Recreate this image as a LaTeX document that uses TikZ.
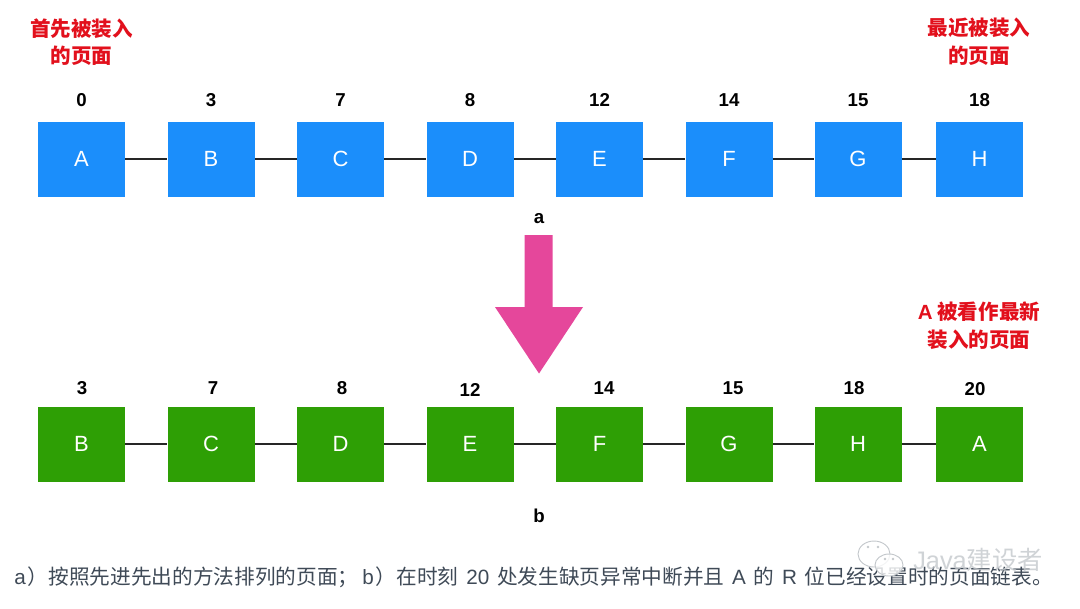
\documentclass[tikz,border=0pt]{standalone}
\usepackage{fontspec}
\setmainfont{Liberation Sans}
\newfontfamily\cjk{Noto Sans CJK SC}
\definecolor{bluebox}{HTML}{1B8EFB}
\definecolor{greenbox}{HTML}{2E9F05}
\definecolor{redtxt}{HTML}{E2101C}
\definecolor{pinkarrow}{HTML}{E5479B}
\definecolor{captxt}{HTML}{3F4A57}
\definecolor{wm}{HTML}{C4C8CC}
\tikzset{
  x=0.75pt,y=-0.75pt,
  pagebox/.style={minimum width=65.25pt,minimum height=56.25pt,inner sep=0pt,text=white,font=\fontsize{16.5}{18}\selectfont},
  bluepage/.style={pagebox,fill=bluebox},
  greenpage/.style={pagebox,fill=greenbox},
  link/.style={line width=1.5pt,draw=black!85},
  stamp/.style={font=\bfseries\fontsize{14}{16}\selectfont,inner sep=0pt},
  note/.style={font=\cjk\bfseries\fontsize{15.4}{20.8}\selectfont,text=redtxt,align=center,inner sep=0pt},
  caption/.style={font=\fontsize{15.5}{18}\selectfont,text=captxt,inner sep=0pt,anchor=west},
  bubble/.style={fill=white,fill opacity=0.8,draw=wm,line width=0.7pt},
}
\begin{document}
\begin{tikzpicture}
\useasboundingbox (0,0) rectangle (1080,608);
\fill[white] (0,0) rectangle (1080,608);
% notes
\node[note] (n1) at (81.5,42) {首先被装入\\的页面};
\node[note] (n2) at (979,42) {最近被装入\\的页面};
\node[note] (n3) at (979,325.5) {{\fontspec{Liberation Sans}\bfseries A} 被看作最新\\装入的页面};
% row a
\foreach \nm/\x/\t/\n in {a1/81.5/A/0,a2/211/B/3,a3/340.5/C/7,a4/470/D/8,a5/599.5/E/12,a6/729/F/14,a7/858/G/15,a8/979.5/H/18}{
  \node[bluepage] (\nm) at (\x,159.2) {\t};
  \node[stamp] (t\nm) at (\x,100) {\n};
}
\foreach \p/\q in {a1/a2,a2/a3,a3/a4,a4/a5,a5/a6,a6/a7,a7/a8} \draw[link] (\p) -- (\q);
% row b
\foreach \nm/\x/\t/\lx/\n/\y in {b1/81.5/B/82/3/388,b2/211/C/213/7/388,b3/340.5/D/342/8/388,b4/470/E/470/12/390,b5/599.5/F/604/14/388,b6/729/G/733/15/388,b7/858/H/854/18/388,b8/979.5/A/975/20/389}{
  \node[greenpage] (\nm) at (\x,444) {\t};
  \node[stamp] (t\nm) at (\lx,\y) {\n};
}
\foreach \p/\q in {b1/b2,b2/b3,b3/b4,b4/b5,b5/b6,b6/b7,b7/b8} \draw[link] (\p) -- (\q);
\node[stamp] (la) at (539,219) {a};
\node[stamp] (lb) at (539,516) {b};
% big arrow
\fill[pinkarrow] (524.5,235) -- (552.5,235) -- (552.5,307) -- (583,307) -- (539,373.5) -- (495,307) -- (524.5,307) -- cycle;
% caption
\node[caption] (cap) at (14,577) {\spaceskip=5.8pt a\kern1.5pt{\cjk ）按照先进先出的方法排列的页面；}\kern3pt b\kern1.5pt{\cjk ）在时刻} 20 {\cjk 处发生缺页异常中断并且} A {\cjk 的} R {\cjk 位已经设置时的页面链表。}};
% watermark
\draw[bubble] (874,554) ellipse (16 and 13);
\fill[wm] (868,547) circle (1.3) (878,547) circle (1.3);
\draw[bubble] (889,565) ellipse (14 and 11);
\fill[wm] (885,559) circle (1.3) (893,559) circle (1.3);
\node[font=\fontsize{19}{22}\selectfont,text=wm,opacity=0.8,inner sep=0pt,anchor=west] (wmk) at (913,560) {Java{\cjk 建设者}};
\end{tikzpicture}
\end{document}
